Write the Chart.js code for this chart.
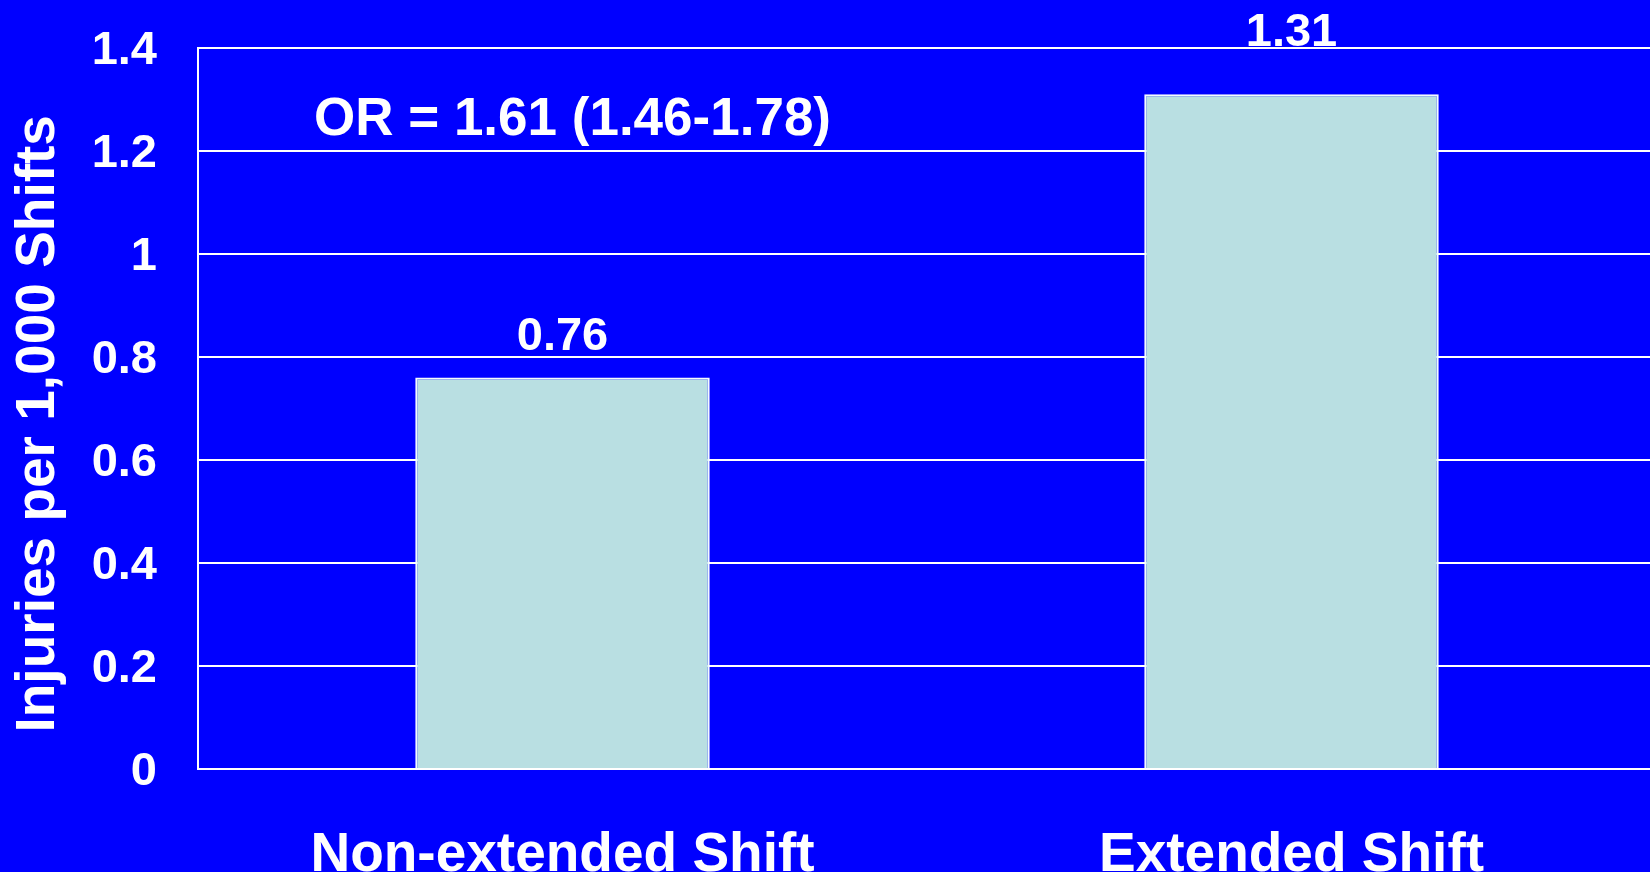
<!DOCTYPE html>
<html>
<head>
<meta charset="utf-8">
<title>Injuries per 1,000 Shifts</title>
<script src="https://cdn.jsdelivr.net/npm/chart.js@4.4.1/dist/chart.umd.min.js"></script>
<style>
  html, body { margin: 0; padding: 0; background: #0000ff; overflow: hidden; }
  #wrap { width: 1650px; height: 872px; overflow: hidden; }
  canvas { display: block; }
</style>
</head>
<body>
<div id="wrap"><canvas id="grafica" width="1656" height="872"></canvas></div>
<script>
'use strict';

/* ── DATOS ── */
const CATEGORIES = ['Non-extended Shift', 'Extended Shift'];
const INJURY_RATES = [0.76, 1.31];
const VALUE_LABELS = ['0.76', '1.31'];
const Y_TICKS = [0, 0.2, 0.4, 0.6, 0.8, 1, 1.2, 1.4];
const Y_TITLE = 'Injuries per 1,000 Shifts';
const OR_TEXT = 'OR = 1.61 (1.46-1.78)';

/* ── ESTILO ── */
const FONT = "'Liberation Sans', Arial, Helvetica, sans-serif";
const WHITE = '#ffffff';
const BAR_FILL = '#b9dfe2';
const LABEL_GAP = [28, 48];   // px entre la barra y su valor

/* Etiquetas de valor y nota OR, ancladas a las escalas */
const labelsPlugin = {
  id: 'valueLabels',
  afterDatasetsDraw(chart) {
    const ctx = chart.ctx;
    const meta = chart.getDatasetMeta(0);
    ctx.save();
    ctx.fillStyle = WHITE;
    ctx.textAlign = 'center';
    ctx.textBaseline = 'alphabetic';
    ctx.font = 'bold 47px ' + FONT;
    meta.data.forEach((bar, i) => {
      ctx.fillText(VALUE_LABELS[i], bar.x, bar.y - LABEL_GAP[i]);
    });

    /* nota OR */
    const x = chart.scales.x.getPixelForValue(0) + 10;
    const y = chart.scales.y.getPixelForValue(1.232);
    ctx.font = 'bold 53px ' + FONT;
    ctx.fillText(OR_TEXT, x, y);
    ctx.restore();
  }
};

const ctx = document.getElementById('grafica').getContext('2d');

new Chart(ctx, {
  type: 'bar',
  data: {
    labels: CATEGORIES,
    datasets: [{
      data: INJURY_RATES,
      backgroundColor: BAR_FILL,
      borderColor: '#f4fbff',
      borderWidth: 2,
      categoryPercentage: 1,
      barPercentage: 0.404
    }]
  },
  options: {
    responsive: false,
    devicePixelRatio: 1,
    animation: false,
    layout: { padding: { top: 48, left: 0, right: 0, bottom: 0 } },
    plugins: {
      legend: { display: false },
      tooltip: { enabled: false }
    },
    scales: {
      x: {
        grid: { display: false, drawTicks: false },
        border: { display: true, color: WHITE, width: 2 },
        ticks: {
          color: WHITE,
          padding: 54,
          maxRotation: 0,
          font: { family: FONT, size: 55, weight: 'bold' }
        },
        afterFit: scale => { scale.height = 103; }
      },
      y: {
        min: 0,
        max: 1.4,
        grid: { color: WHITE, lineWidth: 2, drawTicks: false },
        border: { display: true, color: WHITE, width: 2 },
        afterBuildTicks: scale => { scale.ticks = Y_TICKS.map(v => ({ value: v })); },
        ticks: {
          color: WHITE,
          padding: 41,
          labelOffset: 3,
          callback: v => String(v),
          font: { family: FONT, size: 47, weight: 'bold' }
        },
        title: {
          display: true,
          text: Y_TITLE + '  ',
          color: WHITE,
          padding: { top: 6, bottom: 0 },
          font: { family: FONT, size: 55, weight: 'bold' }
        },
        afterFit: scale => {
          scale.width = 198;
          scale.paddingTop = 0;
          scale.paddingBottom = 0;
        }
      }
    }
  },
  plugins: [labelsPlugin]
});
</script>
</body>
</html>
